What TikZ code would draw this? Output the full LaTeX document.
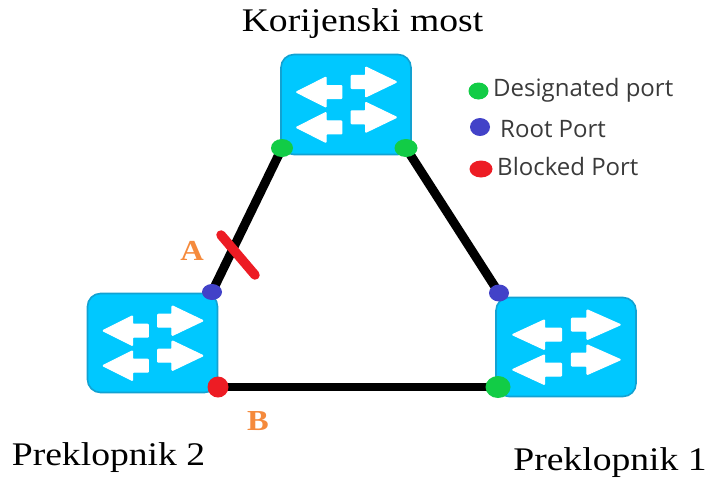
\documentclass[tikz,border=0pt]{standalone}
\usepackage{fontspec}
\setmainfont{Liberation Serif}
\newfontfamily\titlefont[FakeStretch=1.14]{Liberation Serif}
\newfontfamily\letterfont[FakeStretch=1.12]{Liberation Serif Bold}
\newfontfamily\legendfont{Open Sans}
\usetikzlibrary{shapes.geometric,backgrounds}
\definecolor{swfill}{HTML}{00C8FF}
\definecolor{swedge}{HTML}{12A2D2}
\definecolor{pgreen}{HTML}{12CC46}
\definecolor{pblue}{HTML}{4242C8}
\definecolor{pred}{HTML}{ED1C24}
\definecolor{lettercol}{HTML}{F58A3C}
\definecolor{legendcol}{HTML}{3A3A3A}
\tikzset{
  x=1pt,y=-1pt,
  switchbox/.style={draw=swedge,fill=swfill,line width=1.6pt,rounded corners=13pt,inner sep=0pt,minimum width=#1},
  port/.style={ellipse,inner sep=0pt,draw=none},
  link/.style={draw=black,line width=9pt},
  bottomlink/.style={draw=black,line width=8pt},
  blockbar/.style={draw=pred,line width=9.5pt,line cap=round},
  title/.style={font=\titlefont\fontsize{33}{36}\selectfont,text=black,anchor=base,inner sep=0pt},
  letter/.style={font=\letterfont\fontsize{29}{30}\selectfont,text=lettercol,anchor=base,inner sep=0pt},
  legendtext/.style={font=\legendfont\fontsize{24}{26}\selectfont,text=legendcol,anchor=base west,inner sep=0pt},
  swarrow/.style={fill=white,draw=white,line width=1pt,line join=round},
}
% #1 left, #2 top, #3 width, #4 height
\newcommand{\swarrows}[4]{%
  \begin{scope}[shift={(#1,#2)},x=#3pt,y=-#4pt]
    \foreach \v in {.277,.627}{
      \fill[swarrow,rounded corners=.8pt] (.535,\v-.065) -- (.645,\v-.065) -- (.645,\v-.15) -- (.885,\v) -- (.645,\v+.15) -- (.645,\v+.065) -- (.535,\v+.065) -- cycle;
    }
    \foreach \v in {.377,.727}{
      \fill[swarrow,rounded corners=.8pt] (.465,\v-.065) -- (.345,\v-.065) -- (.345,\v-.15) -- (.115,\v) -- (.345,\v+.15) -- (.345,\v+.065) -- (.465,\v+.065) -- cycle;
    }
  \end{scope}}
\begin{document}
\begin{tikzpicture}
\useasboundingbox (0,0) rectangle (709,477);
% switches
\node[switchbox=130pt,minimum height=100pt] (root) at (346,104.5) {};
\node[switchbox=130pt,minimum height=99pt] (sw2) at (152.5,343) {};
\node[switchbox=140pt,minimum height=99pt] (sw1) at (566,347) {};
\swarrows{281}{54}{131}{101}
\swarrows{87.5}{293}{131}{100}
\swarrows{496}{297}{141}{100}
% ports
\node[port,fill=pgreen,minimum width=22pt,minimum height=18pt] (rootL) at (282,148) {};
\node[port,fill=pgreen,minimum width=23pt,minimum height=18pt] (rootR) at (406,148) {};
\node[port,fill=pblue,minimum width=20pt,minimum height=16pt] (sw2R) at (212,292) {};
\node[port,fill=pred,minimum width=21pt,minimum height=21pt] (sw2B) at (218,387) {};
\node[port,fill=pblue,minimum width=20pt,minimum height=17pt] (sw1R) at (499,293) {};
\node[port,fill=pgreen,minimum width=25pt,minimum height=22pt] (sw1G) at (498,387) {};
% connectors
\begin{scope}[on background layer]
  \draw[link] (rootL.center) -- (sw2R.center);
  \draw[link] (rootR.center) -- (sw1R.center);
  \draw[bottomlink] (sw2B.center) -- (sw1G.center);
\end{scope}
% blocked link mark
\coordinate (barA) at (221,235);
\coordinate (barB) at (255,275);
\draw[blockbar] (barA) -- (barB);
% labels
\node[title] (ttop) at (362.5,31.5) {Korijenski most};
\node[title] (tleft) at (108.5,465) {Preklopnik 2};
\node[title] (tright) at (610,470) {Preklopnik 1};
\node[letter] (la) at (192,260) {A};
\node[letter] (lb) at (258,430) {B};
% legend
\node[port,fill=pgreen,minimum width=20pt,minimum height=17pt] (lg) at (478.5,91) {};
\node[port,fill=pblue,minimum width=20pt,minimum height=18pt] (lb2) at (480,127) {};
\node[port,fill=pred,minimum width=23pt,minimum height=17pt] (lr) at (481,169) {};
\node[legendtext] (tg) at (493,96) {Designated port};
\node[legendtext] (tb) at (500,137) {Root Port};
\node[legendtext] (tr) at (497,175) {Blocked Port};
\end{tikzpicture}
\end{document}
